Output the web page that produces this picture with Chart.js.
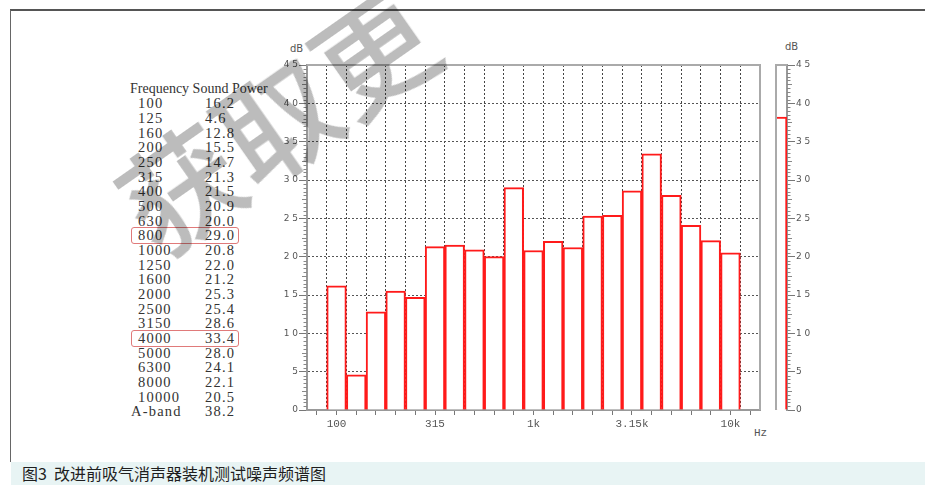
<!DOCTYPE html>
<html><head><meta charset="utf-8">
<script src="https://cdn.jsdelivr.net/npm/chart.js@4"></script>
<style>
body{margin:0;width:925px;height:485px;background:#fff;position:relative;overflow:hidden;font-family:"Liberation Serif",serif;}
#frameTop{position:absolute;left:10px;top:9px;width:915px;height:2px;background:#555;}
#frameLeft{position:absolute;left:10px;top:10px;width:1px;height:452px;background:#666;}
#caption{position:absolute;left:11px;top:462px;width:914px;height:23px;background:#e8f4f4;font-family:"Noto Sans CJK SC",sans-serif;font-size:16px;color:#1e1e1e;line-height:23px;text-indent:11px;white-space:pre;}
.t{position:absolute;font-size:14px;color:#333;white-space:pre;line-height:14px;transform:translateY(-7px);}
.n{font-size:14.5px;letter-spacing:1.2px;}
.box{position:absolute;border:1px solid #e07a7a;border-radius:3px;width:106px;height:15px;}
.lbl{position:absolute;font-family:"DejaVu Sans",sans-serif;font-size:10px;color:#555;}
#main{position:absolute;left:250px;top:30px;}
#aband{position:absolute;left:770px;top:30px;}
#wm{position:absolute;left:96px;top:170px;transform-origin:0 0;transform:rotate(-35deg);font-family:"Noto Sans CJK SC",sans-serif;font-weight:500;font-size:118px;line-height:118px;color:#bcbcbc;mix-blend-mode:multiply;white-space:nowrap;pointer-events:none;}
</style></head>
<body>
<div id="frameTop"></div><div id="frameLeft"></div>
<div id="table"></div>
<div class="lbl" style="left:290px;top:43px;">dB</div>
<div class="lbl" style="left:785px;top:41px;">dB</div>
<div class="lbl" style="left:754px;top:427px;font-family:'Liberation Mono',monospace;font-size:11px;">Hz</div>
<canvas id="main" width="530" height="430"></canvas>
<canvas id="aband" width="80" height="430"></canvas>
<div id="wm">获取更</div>
<div id="caption">图3  改进前吸气消声器装机测试噪声频谱图</div>
<script>
// ---- data ----
const bands = ['80','100','125','160','200','250','315','400','500','630','800','1000','1250','1600','2000','2500','3150','4000','5000','6300','8000','10000','12500'];
const soundPower = [null,16.2,4.6,12.8,15.5,14.7,21.3,21.5,20.9,20.0,29.0,20.8,22.0,21.2,25.3,25.4,28.6,33.4,28.0,24.1,22.1,20.5,null];
const tableFreqs = ['100','125','160','200','250','315','400','500','630','800','1000','1250','1600','2000','2500','3150','4000','5000','6300','8000','10000','A-band'];
const tableValues = ['16.2','4.6','12.8','15.5','14.7','21.3','21.5','20.9','20.0','29.0','20.8','22.0','21.2','25.3','25.4','28.6','33.4','28.0','24.1','22.1','20.5','38.2'];
const highlighted = ['800','4000'];
const aBandLabel = ['A-band'];
const aBandValue = [38.2];
const xTickLabels = {'100':'100','315':'315','1000':'1k','3150':'3.15k','10000':'10k'};
const yTickLabels = ['0','5','1 0','1 5','2 0','2 5','3 0','3 5','4 0','4 5'];

// ---- table ----
const tbl = document.getElementById('table');
function addText(txt, x, y, cls){const d=document.createElement('div');d.className='t'+(cls?' '+cls:'');d.textContent=txt;d.style.left=x+'px';d.style.top=y+'px';tbl.appendChild(d);}
addText('Frequency Sound Power',130,89);
tableFreqs.forEach((f,i)=>{
  const y = 103.3 + 14.67*i;
  addText(f, f==='A-band'?131:138, y, 'n');
  addText(tableValues[i], 205, y, 'n');
  if (highlighted.includes(f)) {
    const b=document.createElement('div');b.className='box';b.style.left='131px';b.style.top=(y-8.5)+'px';tbl.appendChild(b);
  }
});

// ---- plugins ----
const minorTicks = {
  id:'minorTicks',
  afterDraw(chart, args, opts){
    const s = chart.scales.y; const ctx = chart.ctx;
    ctx.save(); ctx.strokeStyle='#888'; ctx.lineWidth=1;
    for (let v=0; v<=45; v+=0.5){
      if (v%5===0) continue;
      const py = Math.round(s.getPixelForValue(v))+0.5;
      const len = (v%2.5===0)?5:3.5;
      ctx.beginPath();
      if (opts.side==='right'){ctx.moveTo(s.left, py);ctx.lineTo(s.left+len, py);}
      else {ctx.moveTo(s.right, py);ctx.lineTo(s.right-len, py);}
      ctx.stroke();
    }
    ctx.restore();
  }
};
const frame = {
  id:'frame',
  afterDraw(chart, args, opts){
    const a = chart.chartArea, ctx = chart.ctx;
    ctx.save(); ctx.strokeStyle='#aaa'; ctx.lineWidth=2;
    ctx.beginPath();
    ctx.moveTo(a.left, a.top); ctx.lineTo(a.right, a.top);
    if (opts.rightEdge) ctx.lineTo(a.right, a.bottom);
    if (opts.leftEdge){ctx.moveTo(a.left+1, a.top); ctx.lineTo(a.left+1, a.bottom);}
    ctx.stroke(); ctx.restore();
  }
};

const tickFont = {family:'DejaVu Sans', size:9};
const red = '#ff1a1a';

new Chart(document.getElementById('main'), {
  type:'bar',
  data:{labels:bands, datasets:[{data:soundPower, xAxisID:'x', backgroundColor:'#ffffff', borderColor:red, borderWidth:2, borderSkipped:'start', barPercentage:1, categoryPercentage:1}]},
  options:{
    responsive:false, animation:false,
    layout:{padding:{left:0, top:35, right:20, bottom:20}},
    plugins:{legend:{display:false}, tooltip:{enabled:false}, minorTicks:{side:'left'}, frame:{rightEdge:true}},
    scales:{
      x:{type:'category', offset:true, weight:0,
         grid:{offset:true, drawTicks:false, color:(c)=> (c.index===0||c.index===bands.length)?'rgba(0,0,0,0)':'#444', lineWidth:1},
         border:{display:true, color:'#999', width:2, dash:[2,2]},
         ticks:{display:false},
         afterFit:(s)=>{s.height=0;}},
      x2:{type:'category', labels:bands, offset:true, position:'bottom', weight:1,
          grid:{offset:false, drawOnChartArea:false, drawTicks:true, tickLength:5, tickColor:'#777'},
          border:{display:false},
          ticks:{autoSkip:false, maxRotation:0, padding:2, color:'#555', font:{family:'Liberation Mono', size:11},
                 callback:(v,i)=> xTickLabels[bands[i]] || ''},
          afterFit:(s)=>{s.height=30;}},
      y:{min:0, max:45, 
         ticks:{stepSize:5, padding:1, color:'#555', font:tickFont, callback:(v,i)=>yTickLabels[i]},
         grid:{color:(c)=> (c.tick && (c.tick.value===0||c.tick.value===45))?'rgba(0,0,0,0)':'#555', tickColor:'#777', tickLength:8, lineWidth:1},
         border:{display:true, color:'#999', width:2, dash:[2,2]},
         afterFit:(s)=>{s.width=57;}}
    }
  },
  plugins:[minorTicks, frame]
});

new Chart(document.getElementById('aband'), {
  type:'bar',
  data:{labels:aBandLabel, datasets:[{data:aBandValue, backgroundColor:'#ffffff', borderColor:red, borderWidth:2, borderSkipped:'start', barPercentage:1, categoryPercentage:1}]},
  options:{
    responsive:false, animation:false,
    layout:{padding:{left:5, top:35, right:0, bottom:50}},
    plugins:{legend:{display:false}, tooltip:{enabled:false}, minorTicks:{side:'right'}, frame:{leftEdge:true}},
    scales:{
      x:{display:false},
      y:{position:'right', min:0, max:45,
         ticks:{stepSize:5, padding:1, color:'#555', font:tickFont, callback:(v,i)=>yTickLabels[i]},
         grid:{drawOnChartArea:false, tickColor:'#777', tickLength:8},
         border:{display:true, color:'#999', width:2},
         afterFit:(s)=>{s.width=63;}}
    }
  },
  plugins:[frame, minorTicks]
});
</script>
</body></html>
